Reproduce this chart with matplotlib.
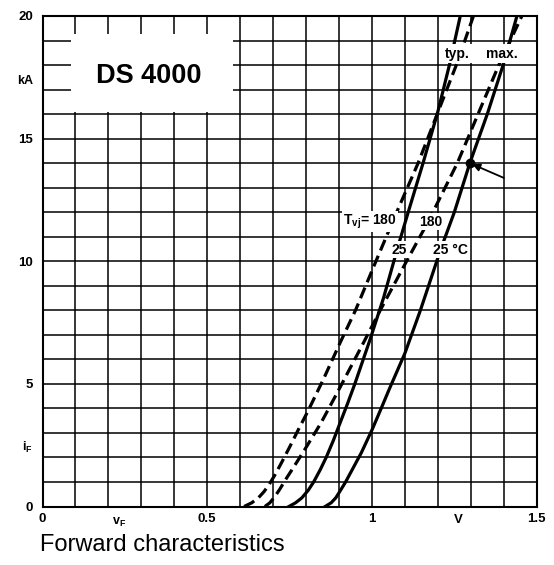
import matplotlib
matplotlib.use("Agg")
import matplotlib.pyplot as plt
import numpy as np
from matplotlib.patches import Rectangle

plt.rcParams['font.family'] = ['Liberation Sans', 'DejaVu Sans']
plt.rcParams['mathtext.fontset'] = 'custom'
plt.rcParams['mathtext.rm'] = 'Liberation Sans'
plt.rcParams['mathtext.default'] = 'regular'

# ---- data (forward current iF in kA vs forward voltage vF in V) ----
typ180_i = [0, 0.15, 0.35, 0.6, 0.9, 1.3, 1.8, 2.5, 3.2, 3.87, 5.2, 6.67, 8, 10, 12, 14, 16, 18, 20]
typ180_v = [0.612, 0.635, 0.655, 0.672, 0.688, 0.706, 0.726, 0.753, 0.779, 0.805, 0.853, 0.903,
            0.95, 1.012, 1.075, 1.14, 1.198, 1.256, 1.308]

typ25_i = [0, 0.15, 0.35, 0.67, 1.0, 1.5, 2.0, 2.7, 3.4, 4.2, 5, 6.8, 8.5, 10.6, 12, 14, 16.1, 18, 20]
typ25_v = [0.748, 0.768, 0.787, 0.807, 0.823, 0.843, 0.861, 0.883, 0.903, 0.926, 0.948, 0.994,
           1.035, 1.079, 1.11, 1.155, 1.2, 1.235, 1.268]

max180_i = [0, 0.15, 0.4, 0.7, 1.1, 1.6, 2.3, 3.4, 4.6, 6.67, 8, 10, 11.6, 14, 16, 18, 20]
max180_v = [0.675, 0.69, 0.705, 0.72, 0.738, 0.762, 0.795, 0.845, 0.893, 0.974, 1.025, 1.105,
            1.17, 1.259, 1.322, 1.385, 1.455]

max25_i = [0, 0.15, 0.35, 0.67, 1.0, 1.5, 2.2, 3.12, 4.0, 4.8, 6.25, 8, 10.5, 12, 14, 16, 18, 20]
max25_v = [0.858, 0.876, 0.89, 0.905, 0.92, 0.94, 0.968, 1.0, 1.028, 1.053, 1.1, 1.147, 1.209,
           1.25, 1.297, 1.35, 1.398, 1.44]

marker_v, marker_i = 1.297, 14.0

x_tick_vals = [0, 0.5, 1, 1.5]
x_tick_text = ['0', '0.5', '1', '1.5']
y_tick_vals = [0, 5, 10, 15, 20]
y_tick_text = ['0', '5', '10', '15', '20']

W, H = 554, 565
fig = plt.figure(figsize=(W / 100, H / 100), dpi=100)
ax = fig.add_axes([42.5 / W, 1 - 506.5 / H, (536.7 - 42.5) / W, (506.5 - 16) / H])
ax.set_xlim(0, 1.5)
ax.set_ylim(0, 20)

xgrid = np.round(np.linspace(0, 1.5, 16), 2)
ygrid = np.arange(0, 21)
ax.set_xticks(xgrid)
ax.set_yticks(ygrid)
ax.set_xticklabels([x_tick_text[x_tick_vals.index(v)] if v in x_tick_vals else '' for v in xgrid],
                   fontsize=9.5, fontweight='bold')
ax.set_yticklabels([y_tick_text[y_tick_vals.index(v)] if v in y_tick_vals else '' for v in ygrid],
                   fontsize=9.5, fontweight='bold')
ax.tick_params(length=0, pad=5)
ax.tick_params(axis='y', pad=7)
ax.set_axisbelow(True)
ax.grid(True, color='black', lw=1.1)
for s in ax.spines.values():
    s.set_linewidth(1.5)

lw = 2.3
dash = (0, (3.6, 1.8))
ax.plot(typ180_v, typ180_i, color='black', lw=lw, ls=dash, zorder=3)
ax.plot(max180_v, max180_i, color='black', lw=lw, ls=dash, zorder=3)
ax.plot(typ25_v, typ25_i, color='black', lw=lw, zorder=3, solid_joinstyle='round')
ax.plot(max25_v, max25_i, color='black', lw=lw, zorder=3, solid_joinstyle='round')

ax.plot([marker_v], [marker_i], 'o', color='black', ms=6, zorder=4)
ax.annotate('', xy=(marker_v, marker_i), xytext=(1.40, 13.4),
            arrowprops=dict(arrowstyle='-|>', lw=1.3, color='black', mutation_scale=11,
                            shrinkA=0, shrinkB=2), zorder=4)

# white boxes
ax.add_patch(Rectangle((0.085, 16.1), 0.492, 3.15, facecolor='white', edgecolor='none', zorder=1))
ax.text(0.323, 17.55, 'DS 4000', fontsize=19.5, fontweight='bold', ha='center', va='center', zorder=5)

ax.add_patch(Rectangle((1.227, 18.1), 0.27, 0.75, facecolor='white', edgecolor='none', zorder=4))
ax.text(1.258, 18.47, 'typ.', fontsize=10, fontweight='bold', ha='center', va='center', zorder=5)
ax.text(1.395, 18.47, 'max.', fontsize=10, fontweight='bold', ha='center', va='center', zorder=5)

bb = dict(facecolor='white', edgecolor='none', pad=1.0)
ax.text(0.912, 11.62, r'T$_{vj}$= 180', fontsize=10, fontweight='bold', ha='left', va='center',
        bbox=bb, zorder=5)
ax.text(1.179, 11.62, '180', fontsize=10, fontweight='bold', ha='center', va='center', bbox=bb, zorder=5)
ax.text(1.082, 10.47, '25', fontsize=10, fontweight='bold', ha='center', va='center', bbox=bb, zorder=5)
ax.text(1.185, 10.47, '25 °C', fontsize=10, fontweight='bold', ha='left', va='center', bbox=bb, zorder=5)

# axis annotations
fig.text(33 / W, 1 - 81.5 / H, 'kA', fontsize=9, fontweight='bold', ha='right', va='center')
fig.text(33 / W, 1 - 447 / H, r'i$_F$', fontsize=9, fontweight='bold', ha='right', va='center')
fig.text(112 / W, 1 - 516 / H, r'v$_F$', fontsize=9, fontweight='bold', ha='left', va='top')
fig.text(458 / W, 1 - 520 / H, 'V', fontsize=9.5, fontweight='bold', ha='center', va='center')

fig.text(40 / W, 1 - 551 / H, 'Forward characteristics', fontsize=17, ha='left', va='baseline')

fig.savefig('out.png', dpi=100)
